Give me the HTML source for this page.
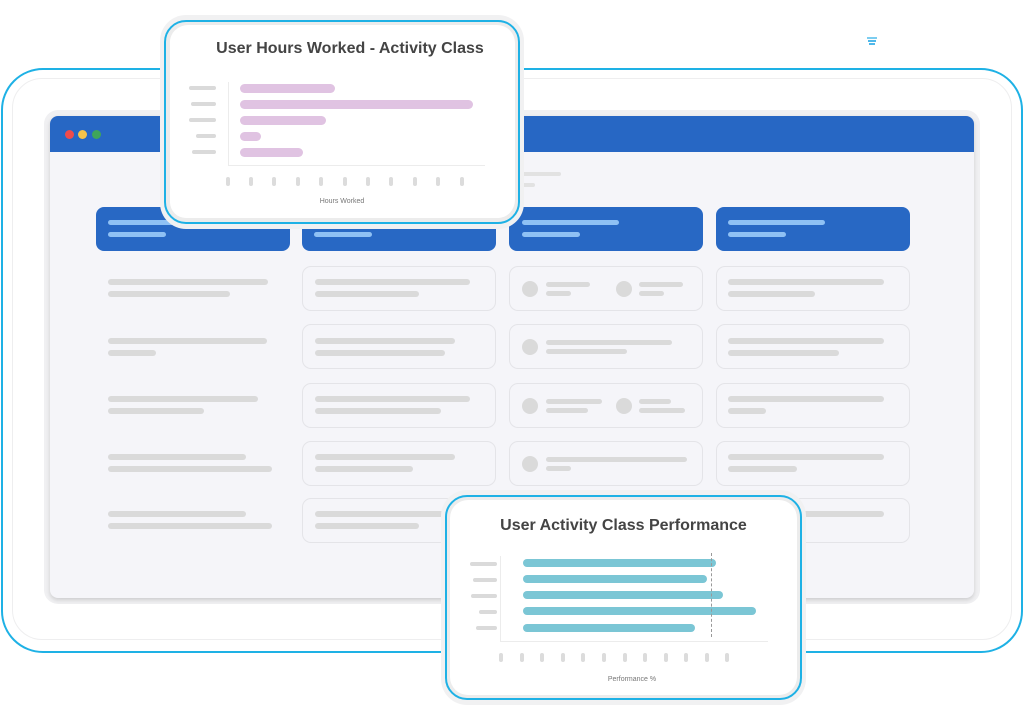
<!DOCTYPE html>
<html><head><meta charset="utf-8"><style>
*{margin:0;padding:0;box-sizing:border-box}
body{width:1024px;height:720px;background:#fff;position:relative;overflow:hidden;font-family:"Liberation Sans",sans-serif}
div{position:absolute}
.l{height:6px;border-radius:3px;background:#dadada}
.hl{height:5px;border-radius:3px;background:#8fc1f4}
.hd{background:#2868c4;border-radius:8px;width:194px;height:44px;top:207px}
.bx{width:194px;height:45px;border:1.5px solid #e4e4e8;border-radius:9px}
.c{width:16px;height:16px;border-radius:50%;background:#dadada}
.pb{height:9px;border-radius:5px;background:#e0c3e2}
.tb{height:10px;border-radius:5px;background:#7bc6d5}
.tk{width:4px;height:9px;border-radius:2px;background:#dcdcdc}
.lab{height:4px;border-radius:2px;background:#dadada}
</style></head><body>
<!-- outer frame -->
<div style="left:1px;top:68px;width:1022px;height:585px;border:2px solid #1eb1e5;border-radius:42px"></div>
<div style="left:12px;top:78px;width:1000px;height:562px;border:1px solid #eeeeef;border-radius:30px"></div>
<!-- icon -->
<div style="left:867px;top:37px;width:10px;height:2px;background:#7ccdf0"></div>
<div style="left:868px;top:40px;width:8px;height:2px;background:#4fb8ea"></div>
<div style="left:869px;top:43px;width:6px;height:2px;background:#4fb8ea"></div>
<!-- browser -->
<div style="left:44px;top:110px;width:936px;height:494px;border-radius:14px;background:#f0f0f2"></div>
<div style="left:50px;top:116px;width:924px;height:482px;border-radius:8px;background:#f5f5f9;box-shadow:0 2px 4px rgba(0,0,0,.15);overflow:hidden">
 <div style="left:0;top:0;width:924px;height:36px;background:#2767c4"></div>
</div>
<div style="left:65px;top:130px;width:9px;height:9px;border-radius:50%;background:#f04b4b"></div>
<div style="left:78px;top:130px;width:9px;height:9px;border-radius:50%;background:#f5c34a"></div>
<div style="left:92px;top:130px;width:9px;height:9px;border-radius:50%;background:#3fa55a"></div>
<div class="l" style="left:515px;top:172px;width:46px;height:4px;background:#e2e2e2"></div>
<div class="l" style="left:515px;top:183px;width:20px;height:4px;background:#e2e2e2"></div>
<!-- headers -->
<div class="hd" style="left:96px"></div><div class="hd" style="left:302px"></div><div class="hd" style="left:509px"></div><div class="hd" style="left:716px"></div>
<div class="hl" style="left:108px;top:220px;width:97px"></div><div class="hl" style="left:108px;top:232px;width:58px"></div>
<div class="hl" style="left:314px;top:220px;width:97px"></div><div class="hl" style="left:314px;top:232px;width:58px"></div>
<div class="hl" style="left:522px;top:220px;width:97px"></div><div class="hl" style="left:522px;top:232px;width:58px"></div>
<div class="hl" style="left:728px;top:220px;width:97px"></div><div class="hl" style="left:728px;top:232px;width:58px"></div>
<!-- col1 -->
<div class="l" style="left:108px;top:279px;width:160px"></div><div class="l" style="left:108px;top:291px;width:122px"></div>
<div class="l" style="left:108px;top:338px;width:159px"></div><div class="l" style="left:108px;top:350px;width:48px"></div>
<div class="l" style="left:108px;top:396px;width:150px"></div><div class="l" style="left:108px;top:408px;width:96px"></div>
<div class="l" style="left:108px;top:454px;width:138px"></div><div class="l" style="left:108px;top:466px;width:164px"></div>
<div class="l" style="left:108px;top:511px;width:138px"></div><div class="l" style="left:108px;top:523px;width:164px"></div>
<!-- col2 -->
<div class="bx" style="left:302px;top:266px"></div><div class="bx" style="left:302px;top:324px"></div><div class="bx" style="left:302px;top:383px"></div><div class="bx" style="left:302px;top:441px"></div><div class="bx" style="left:302px;top:498px"></div>
<div class="l" style="left:315px;top:279px;width:155px"></div><div class="l" style="left:315px;top:291px;width:104px"></div>
<div class="l" style="left:315px;top:338px;width:140px"></div><div class="l" style="left:315px;top:350px;width:130px"></div>
<div class="l" style="left:315px;top:396px;width:155px"></div><div class="l" style="left:315px;top:408px;width:126px"></div>
<div class="l" style="left:315px;top:454px;width:140px"></div><div class="l" style="left:315px;top:466px;width:98px"></div>
<div class="l" style="left:315px;top:511px;width:140px"></div><div class="l" style="left:315px;top:523px;width:104px"></div>
<!-- col3 -->
<div class="bx" style="left:509px;top:266px"></div><div class="bx" style="left:509px;top:324px"></div><div class="bx" style="left:509px;top:383px"></div><div class="bx" style="left:509px;top:441px"></div><div class="bx" style="left:509px;top:498px"></div>
<div class="c" style="left:522px;top:281px"></div><div class="l" style="left:546px;top:282px;width:44px;height:5px"></div><div class="l" style="left:546px;top:291px;width:25px;height:5px"></div>
<div class="c" style="left:616px;top:281px"></div><div class="l" style="left:639px;top:282px;width:44px;height:5px"></div><div class="l" style="left:639px;top:291px;width:25px;height:5px"></div>
<div class="c" style="left:522px;top:339px"></div><div class="l" style="left:546px;top:340px;width:126px;height:5px"></div><div class="l" style="left:546px;top:349px;width:81px;height:5px"></div>
<div class="c" style="left:522px;top:398px"></div><div class="l" style="left:546px;top:399px;width:56px;height:5px"></div><div class="l" style="left:546px;top:408px;width:42px;height:5px"></div>
<div class="c" style="left:616px;top:398px"></div><div class="l" style="left:639px;top:399px;width:32px;height:5px"></div><div class="l" style="left:639px;top:408px;width:46px;height:5px"></div>
<div class="c" style="left:522px;top:456px"></div><div class="l" style="left:546px;top:457px;width:141px;height:5px"></div><div class="l" style="left:546px;top:466px;width:25px;height:5px"></div>
<!-- col4 -->
<div class="bx" style="left:716px;top:266px"></div><div class="bx" style="left:716px;top:324px"></div><div class="bx" style="left:716px;top:383px"></div><div class="bx" style="left:716px;top:441px"></div><div class="bx" style="left:716px;top:498px"></div>
<div class="l" style="left:728px;top:279px;width:156px"></div><div class="l" style="left:728px;top:291px;width:87px"></div>
<div class="l" style="left:728px;top:338px;width:156px"></div><div class="l" style="left:728px;top:350px;width:111px"></div>
<div class="l" style="left:728px;top:396px;width:156px"></div><div class="l" style="left:728px;top:408px;width:38px"></div>
<div class="l" style="left:728px;top:454px;width:156px"></div><div class="l" style="left:728px;top:466px;width:69px"></div>
<div class="l" style="left:728px;top:511px;width:156px"></div>
<!-- top card -->
<div style="left:160px;top:15px;width:364px;height:214px;border-radius:26px;background:#f1f1f2"></div>
<div style="left:164px;top:20px;width:356px;height:204px;border:2px solid #1eb1e5;border-radius:22px;background:#fff;box-shadow:inset 0 0 0 4px #ececec"></div>
<div style="left:170px;top:25px;width:345px;height:193px;border-radius:18px;background:#fff"></div>
<div style="left:170px;top:40px;width:360px;text-align:center;font-size:16px;font-weight:bold;color:#444">User Hours Worked - Activity Class</div>
<div class="lab" style="left:189px;top:86px;width:27px"></div>
<div class="lab" style="left:191px;top:102px;width:25px"></div>
<div class="lab" style="left:189px;top:118px;width:27px"></div>
<div class="lab" style="left:196px;top:134px;width:20px"></div>
<div class="lab" style="left:192px;top:150px;width:24px"></div>
<div style="left:228px;top:82px;width:1px;height:84px;background:#ececec"></div>
<div style="left:228px;top:165px;width:257px;height:1px;background:#ececec"></div>
<div class="pb" style="left:240px;top:84px;width:95px"></div>
<div class="pb" style="left:240px;top:100px;width:233px"></div>
<div class="pb" style="left:240px;top:116px;width:86px"></div>
<div class="pb" style="left:240px;top:132px;width:21px"></div>
<div class="pb" style="left:240px;top:148px;width:63px"></div>
<div class="tk" style="left:226px;top:177px"></div><div class="tk" style="left:249px;top:177px"></div><div class="tk" style="left:272px;top:177px"></div><div class="tk" style="left:296px;top:177px"></div><div class="tk" style="left:319px;top:177px"></div><div class="tk" style="left:343px;top:177px"></div><div class="tk" style="left:366px;top:177px"></div><div class="tk" style="left:389px;top:177px"></div><div class="tk" style="left:413px;top:177px"></div><div class="tk" style="left:436px;top:177px"></div><div class="tk" style="left:460px;top:177px"></div>
<div style="left:292px;top:198px;width:100px;text-align:center;font-size:7px;color:#777">Hours Worked</div>
<!-- bottom card -->
<div style="left:441px;top:490px;width:365px;height:215px;border-radius:26px;background:#f1f1f2"></div>
<div style="left:445px;top:495px;width:357px;height:205px;border:2px solid #1eb1e5;border-radius:22px;background:#fff;box-shadow:inset 0 0 0 4px #ececec"></div>
<div style="left:450px;top:500px;width:347px;height:195px;border-radius:18px;background:#fff"></div>
<div style="left:450px;top:517px;width:347px;text-align:center;font-size:16px;font-weight:bold;color:#444">User Activity Class Performance</div>
<div class="lab" style="left:470px;top:562px;width:27px"></div>
<div class="lab" style="left:473px;top:578px;width:24px"></div>
<div class="lab" style="left:471px;top:594px;width:26px"></div>
<div class="lab" style="left:479px;top:610px;width:18px"></div>
<div class="lab" style="left:476px;top:626px;width:21px"></div>
<div style="left:500px;top:556px;width:1px;height:86px;background:#ececec"></div>
<div style="left:500px;top:641px;width:268px;height:1px;background:#ececec"></div>
<div class="tb" style="left:523px;top:559px;width:193px;height:8px"></div>
<div class="tb" style="left:523px;top:575px;width:184px;height:8px"></div>
<div class="tb" style="left:523px;top:591px;width:200px;height:8px"></div>
<div class="tb" style="left:523px;top:607px;width:233px;height:8px"></div>
<div class="tb" style="left:523px;top:624px;width:172px;height:8px"></div>
<div style="left:711px;top:553px;width:0;height:84px;border-left:1px dashed #999"></div>
<div class="tk" style="left:499px;top:653px"></div><div class="tk" style="left:520px;top:653px"></div><div class="tk" style="left:540px;top:653px"></div><div class="tk" style="left:561px;top:653px"></div><div class="tk" style="left:581px;top:653px"></div><div class="tk" style="left:602px;top:653px"></div><div class="tk" style="left:623px;top:653px"></div><div class="tk" style="left:643px;top:653px"></div><div class="tk" style="left:664px;top:653px"></div><div class="tk" style="left:684px;top:653px"></div><div class="tk" style="left:705px;top:653px"></div><div class="tk" style="left:725px;top:653px"></div>
<div style="left:582px;top:676px;width:100px;text-align:center;font-size:7px;color:#777">Performance %</div>
</body></html>
